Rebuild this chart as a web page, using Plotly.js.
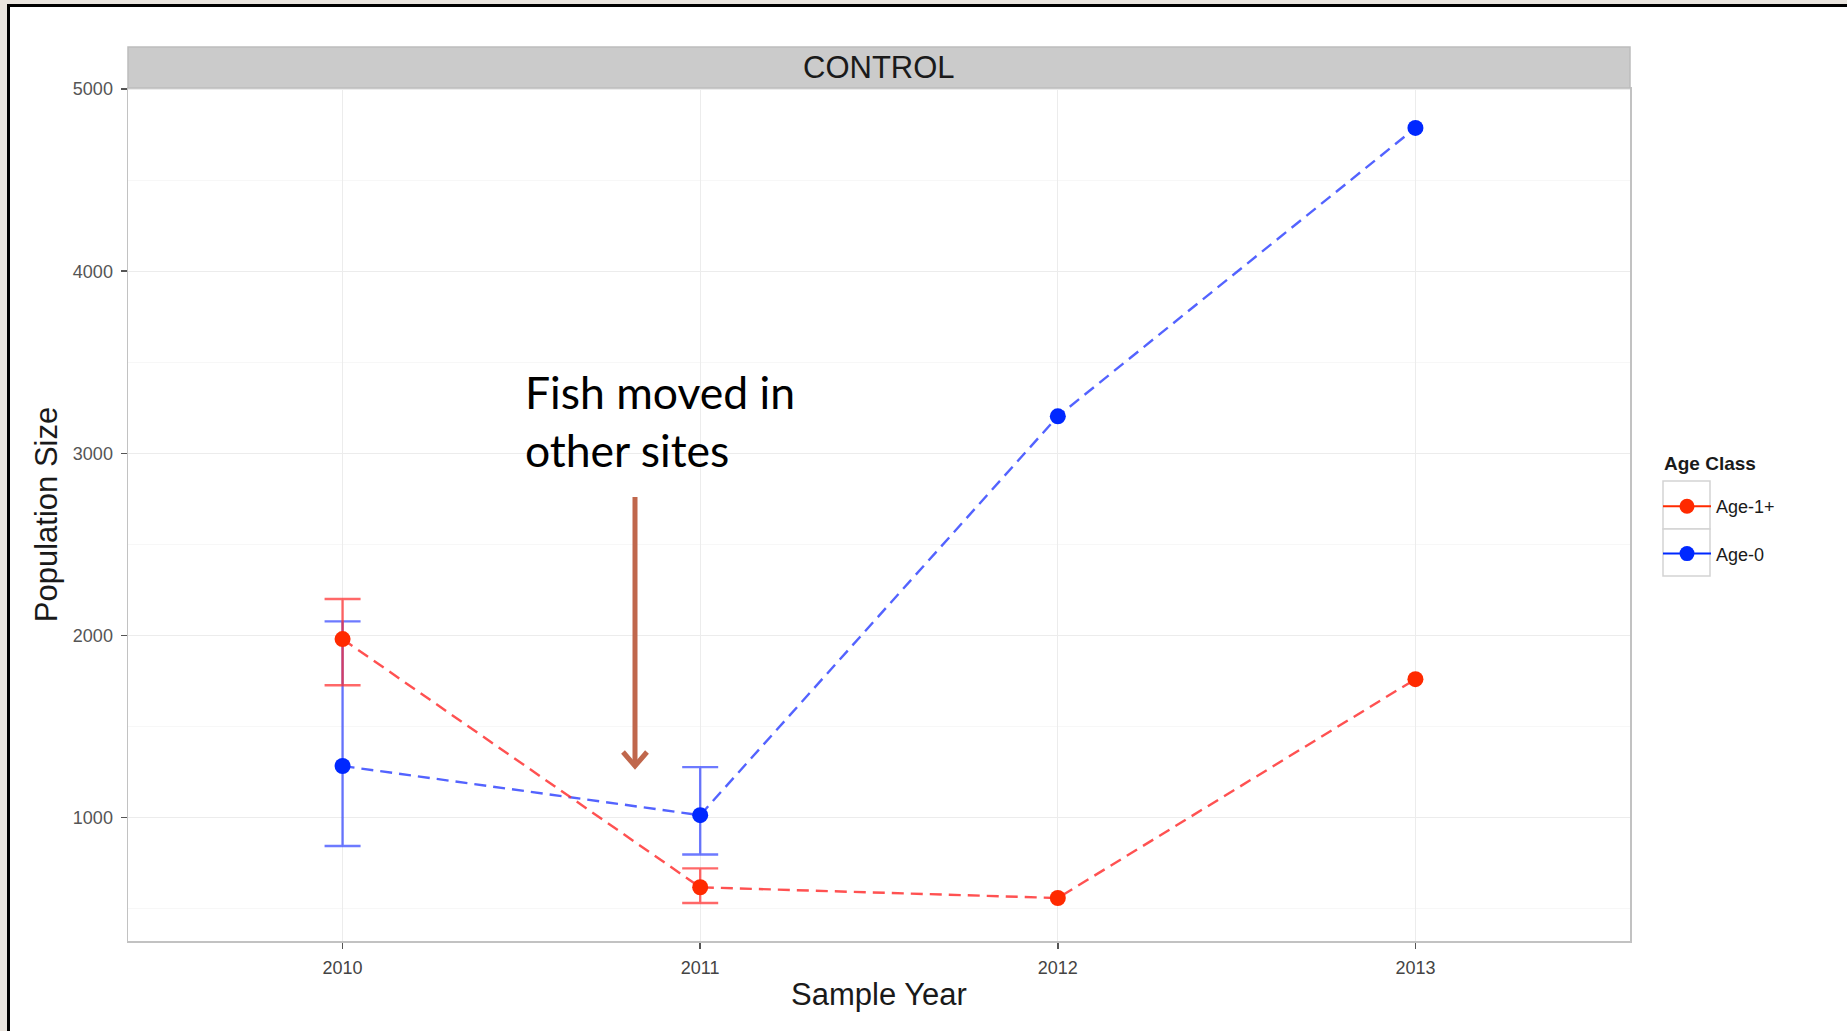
<!DOCTYPE html>
<html>
<head>
<meta charset="utf-8">
<script src="https://cdn.plot.ly/plotly-3.0.1.min.js"></script>
<style>
  html, body { margin: 0; padding: 0; width: 1847px; height: 1031px; overflow: hidden; background: #e9e4de; }
  #frame { position: absolute; left: 7px; top: 4px; width: 1840px; height: 1027px; background: #ffffff;
           border-top: 3px solid #000; border-left: 3px solid #000; box-sizing: border-box; }
  #chart { position: absolute; left: 0; top: 0; width: 1847px; height: 1031px; }
</style>
</head>
<body>
<div id="frame"></div>
<div id="chart"></div>
<script>
// Sample years (discrete axis)
const years = ['2010', '2011', '2012', '2013'];

// Age-1+ population estimates and confidence bounds (bounds only for 2010-2011)
const age1Plus = [1980, 617, 558, 1760];
const age1PlusUpper = [2200, 721];
const age1PlusLower = [1726, 531];

// Age-0 population estimates and confidence bounds (bounds only for 2010-2011)
const age0 = [1283, 1013, 3203, 4787];
const age0Upper = [2077, 1277];
const age0Lower = [844, 797];

const FONT = 'Liberation Sans, Arial, sans-serif';
const RED = '#ff2a00', BLUE = '#0028ff';

const W = 1847, H = 1031;
const M = { l: 128, r: 217, t: 88, b: 90 };
const PW = W - M.l - M.r, PH = H - M.t - M.b;
// pixel -> paper coordinate helpers for the decorations
const px = p => (p - M.l) / PW;
const py = p => (H - M.b - p) / PH;

const plusErr = (upper, vals) => upper.map((u, i) => u - vals[i]);
const minusErr = (lower, vals) => lower.map((l, i) => vals[i] - l);

const traces = [
  {
    x: years, y: age0, type: 'scatter', mode: 'lines+markers', showlegend: false,
    line: { color: 'rgba(40,60,255,0.8)', width: 2.4, dash: '12px,7px' },
    marker: { color: BLUE, size: 16 },
    error_y: { type: 'data', symmetric: false,
      array: plusErr(age0Upper, age0), arrayminus: minusErr(age0Lower, age0),
      color: 'rgba(30,50,255,0.65)', thickness: 2.4, width: 18 }
  },
  {
    x: years, y: age1Plus, type: 'scatter', mode: 'lines+markers', showlegend: false,
    line: { color: 'rgba(255,50,50,0.85)', width: 2.4, dash: '12px,7px' },
    marker: { color: RED, size: 16 },
    error_y: { type: 'data', symmetric: false,
      array: plusErr(age1PlusUpper, age1Plus), arrayminus: minusErr(age1PlusLower, age1Plus),
      color: 'rgba(255,40,40,0.7)', thickness: 2.4, width: 18 }
  },
  // legend keys
  { x: [null], y: [null], type: 'scatter', mode: 'lines+markers', name: 'Age-1+', legendgroup: 'a1',
    line: { color: RED, width: 2 }, marker: { color: RED, size: 15 } },
  { x: [null], y: [null], type: 'scatter', mode: 'lines+markers', name: 'Age-0', legendgroup: 'a0',
    line: { color: BLUE, width: 2 }, marker: { color: BLUE, size: 15 } }
];

const keyBox = (top, bottom) => ({
  type: 'rect', xref: 'paper', yref: 'paper', layer: 'below',
  x0: px(1663), x1: px(1710), y0: py(bottom), y1: py(top),
  fillcolor: '#ffffff', line: { color: '#d3d3d3', width: 1.5 }
});

const ARROW = '#c0674c';

const layout = {
  width: W, height: H,
  margin: M,
  paper_bgcolor: 'rgba(0,0,0,0)',
  plot_bgcolor: '#ffffff',
  font: { family: FONT, color: '#1a1a1a' },
  xaxis: {
    type: 'category', range: [-0.6, 3.6],
    showgrid: true, gridcolor: '#ececec', gridwidth: 1.2,
    showline: true, mirror: true, linecolor: '#c2c2c2', linewidth: 1.5,
    ticks: 'outside', ticklen: 6, tickwidth: 1.5, tickcolor: '#555',
    ticklabelstandoff: 4,
    tickfont: { size: 18, color: '#444', family: FONT },
    zeroline: false,
    title: { text: 'Sample Year', font: { size: 31, color: '#1a1a1a', family: FONT }, standoff: 6 }
  },
  yaxis: {
    range: [322, 5006], dtick: 1000, tick0: 0,
    showgrid: true, gridcolor: '#ececec', gridwidth: 1.2,
    minor: { dtick: 500, tick0: 0, showgrid: true, gridcolor: '#f7f7f7', gridwidth: 1.2 },
    showline: true, mirror: true, linecolor: '#c2c2c2', linewidth: 1.5,
    ticks: 'outside', ticklen: 6, tickwidth: 1.5, tickcolor: '#555',
    ticklabelstandoff: 4,
    tickfont: { size: 18, color: '#555', family: FONT },
    zeroline: false,
    title: { text: 'Population Size', font: { size: 31, color: '#1a1a1a', family: FONT }, standoff: 6 }
  },
  showlegend: true,
  legend: {
    x: px(1658), xanchor: 'left', y: py(488), yanchor: 'top',
    bgcolor: 'rgba(0,0,0,0)', borderwidth: 0,
    font: { size: 18, family: FONT, color: '#1a1a1a' },
    tracegroupgap: 21, itemwidth: 48, traceorder: 'grouped'
  },
  shapes: [
    // facet strip
    { type: 'rect', xref: 'paper', yref: 'paper', x0: 0, x1: 1, y0: 1, y1: py(47),
      fillcolor: '#cbcbcb', line: { color: '#bdbdbd', width: 1.5 } },
    keyBox(481, 529),
    keyBox(529, 576),
    // pointer arrow
    { type: 'path', xref: 'paper', yref: 'paper',
      path: `M ${px(635)},${py(497)} L ${px(635)},${py(764)}`,
      line: { color: ARROW, width: 5 } },
    { type: 'path', xref: 'paper', yref: 'paper',
      path: `M ${px(623)},${py(752)} L ${px(635)},${py(766)} L ${px(647)},${py(752)}`,
      line: { color: ARROW, width: 5 } }
  ],
  annotations: [
    { text: 'CONTROL', xref: 'paper', yref: 'paper', x: 0.5, y: py(67.5),
      xanchor: 'center', yanchor: 'middle', showarrow: false,
      font: { size: 31, family: FONT, color: '#1a1a1a' } },
    { text: '<b>Age Class</b>', xref: 'paper', yref: 'paper', x: px(1662), y: py(463),
      xanchor: 'left', yanchor: 'middle', showarrow: false,
      font: { size: 19, family: FONT, color: '#1a1a1a' } },
    { text: 'Fish moved in<br>other sites', xref: 'paper', yref: 'paper',
      x: px(523), y: py(363), xanchor: 'left', yanchor: 'top', align: 'left', showarrow: false,
      font: { size: 44.5, family: 'Lato, "Open Sans", sans-serif', color: '#000' } }
  ]
};

Plotly.newPlot('chart', traces, layout, { staticPlot: true, displayModeBar: false });
</script>
</body>
</html>
